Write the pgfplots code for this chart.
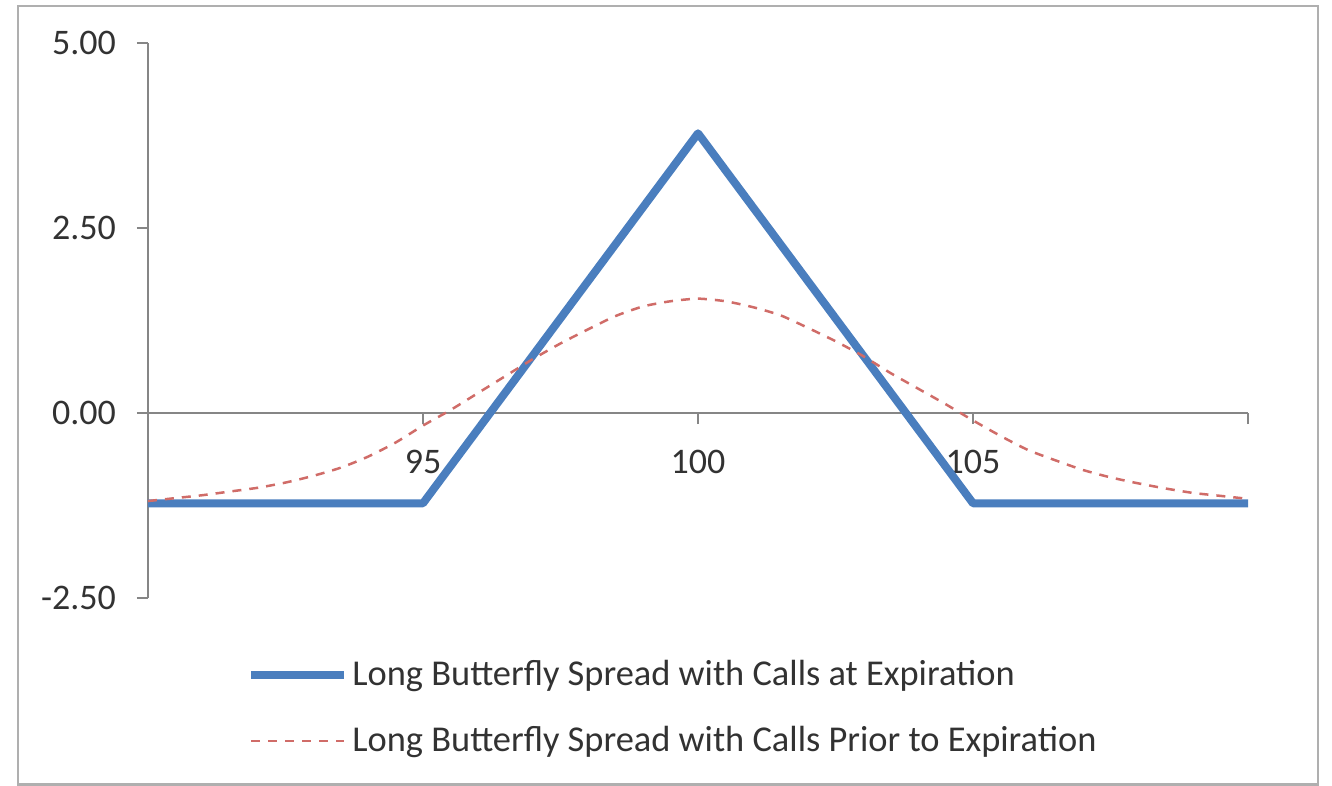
\documentclass[border=0pt]{standalone}
\usepackage{pgfplots}
\pgfplotsset{compat=1.18}
\usepackage{fontspec}
\setmainfont{Carlito}
\definecolor{bflyblue}{RGB}{74,126,190}
\definecolor{bflyred}{RGB}{208,108,104}
\definecolor{axgray}{RGB}{134,134,134}
\definecolor{framegray}{RGB}{175,175,175}
\definecolor{txt}{RGB}{50,50,50}

\pgfplotstableread{
x y
90 -1.22
95 -1.22
100 3.78
105 -1.22
110 -1.22
}\expiry

\pgfplotstableread{
x y
90 -1.19
90.5 -1.15
91 -1.11
91.5 -1.06
92 -1.01
92.5 -0.94
93 -0.85
93.5 -0.74
94 -0.59
94.5 -0.40
95 -0.17
95.5 0.04
96 0.27
96.5 0.50
97 0.73
97.5 0.94
98 1.13
98.5 1.31
99 1.44
99.5 1.51
100 1.545
100.5 1.51
101 1.43
101.5 1.32
102 1.15
102.5 0.97
103 0.77
103.5 0.54
104 0.33
104.5 0.12
105 -0.10
105.5 -0.31
106 -0.50
106.5 -0.64
107 -0.77
107.5 -0.87
108 -0.95
108.5 -1.02
109 -1.08
109.5 -1.12
110 -1.16
}\prior

\begin{document}
\begin{tikzpicture}[x=1pt,y=1pt]
\path (-74,-94) rectangle (592,299);
\draw[framegray, line width=1.2pt] (-65,-93.2) rectangle (585,296);
\begin{axis}[
  at={(0,0)}, anchor=south west,
  scale only axis, width=550pt, height=277.5pt,
  xmin=90, xmax=110, ymin=-2.5, ymax=5,
  axis x line*=middle, axis y line*=left,
  axis line style={axgray, line width=1pt},
  xtick={95,100,105,110}, xticklabels={95,100,105,{}},
  ytick={-2.5,0,2.5,5}, yticklabels={-2.50,0.00,2.50,5.00},
  tick align=outside, major tick length=5.5pt,
  tick style={axgray, line width=1pt},
  ticklabel style={font=\fontsize{18}{21}\selectfont, text=txt},
  xticklabel style={yshift=-9.5pt},
  yticklabel style={xshift=-7pt},
  clip=false,
  legend cell align=left,
  legend style={at={(49.5pt,-29pt)}, anchor=north west, draw=none, fill=none,
    inner sep=0pt, row sep=15pt,
    font=\fontsize{18.2}{21}\selectfont, text=txt},
  legend image code/.code={\draw[#1] (0pt,0pt) -- (46.5pt,0pt);},
]
\addplot[bflyblue, line width=4pt, line join=round] table[x=x,y=y] {\expiry};
\addlegendentry{Long Butterfly Spread with Calls at Expiration}
\addplot[bflyred, line width=1.25pt, dash pattern=on 4.5pt off 4pt, smooth, tension=0.4] table[x=x,y=y] {\prior};
\addlegendentry{Long Butterfly Spread with Calls Prior to Expiration}
\end{axis}
\end{tikzpicture}
\end{document}
